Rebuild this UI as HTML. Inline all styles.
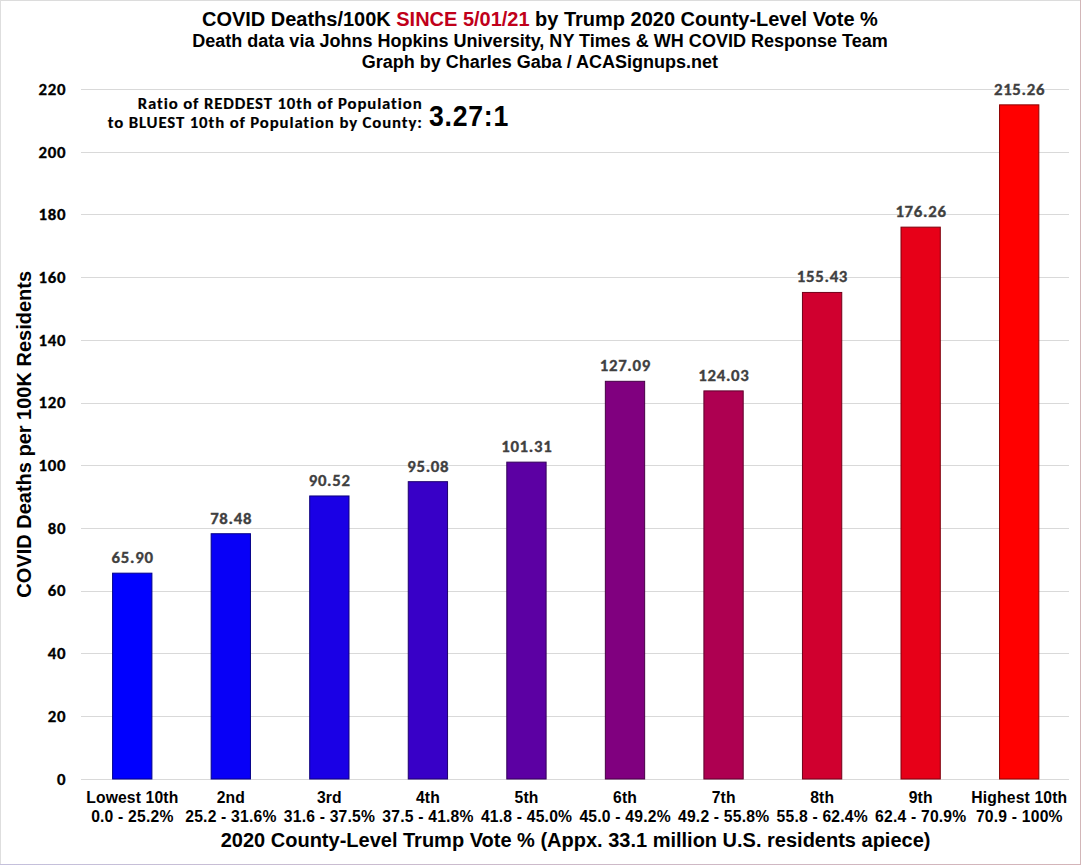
<!DOCTYPE html>
<html><head><meta charset="utf-8"><title>COVID Deaths/100K by Trump 2020 County-Level Vote %</title>
<style>
html,body{margin:0;padding:0;background:#fff;}
body{width:1081px;height:865px;overflow:hidden;}
svg{display:block;}
text{font-variant-ligatures:none;font-feature-settings:"liga" 0,"clig" 0;}
.dl{stroke:#404040;stroke-width:0.3px;}
.yl{stroke:#000;stroke-width:0.3px;}
.rt{stroke:#000;stroke-width:0.15px;}
</style></head><body>
<svg width="1081" height="865" viewBox="0 0 1081 865">
<defs><linearGradient id="bb" x1="0" x2="1" y1="0" y2="0"><stop offset="0" stop-color="#c4c0dc"/><stop offset="1" stop-color="#d4b4b8"/></linearGradient></defs>
<rect x="0" y="0" width="1081" height="865" fill="#fff"/>
<rect x="81" y="779" width="988" height="1" fill="#d9d9d9"/>
<rect x="81" y="716" width="988" height="1" fill="#d9d9d9"/>
<rect x="81" y="653" width="988" height="1" fill="#d9d9d9"/>
<rect x="81" y="591" width="988" height="1" fill="#d9d9d9"/>
<rect x="81" y="528" width="988" height="1" fill="#d9d9d9"/>
<rect x="81" y="465" width="988" height="1" fill="#d9d9d9"/>
<rect x="81" y="403" width="988" height="1" fill="#d9d9d9"/>
<rect x="81" y="340" width="988" height="1" fill="#d9d9d9"/>
<rect x="81" y="277" width="988" height="1" fill="#d9d9d9"/>
<rect x="81" y="214" width="988" height="1" fill="#d9d9d9"/>
<rect x="81" y="152" width="988" height="1" fill="#d9d9d9"/>
<rect x="81" y="89" width="988" height="1" fill="#d9d9d9"/>
<rect x="112.60" y="573.17" width="39.30" height="205.83" fill="#0000ff" stroke="#00008c" stroke-width="1"/>
<text class="dl" transform="translate(132.59,563.17) scale(1.04,1)" text-anchor="middle" font-family='Carlito, Calibri, "Liberation Sans", sans-serif' font-size="16.2" font-weight="bold" fill="#404040" letter-spacing="0.65">65.90</text>
<rect x="211.15" y="533.73" width="39.30" height="245.27" fill="#0800f7" stroke="#040087" stroke-width="1"/>
<text class="dl" transform="translate(231.14,523.73) scale(1.04,1)" text-anchor="middle" font-family='Carlito, Calibri, "Liberation Sans", sans-serif' font-size="16.2" font-weight="bold" fill="#404040" letter-spacing="0.65">78.48</text>
<rect x="309.70" y="495.97" width="39.30" height="283.03" fill="#1a00e5" stroke="#0e007d" stroke-width="1"/>
<text class="dl" transform="translate(329.69,485.97) scale(1.04,1)" text-anchor="middle" font-family='Carlito, Calibri, "Liberation Sans", sans-serif' font-size="16.2" font-weight="bold" fill="#404040" letter-spacing="0.65">90.52</text>
<rect x="408.25" y="481.68" width="39.30" height="297.32" fill="#3800c7" stroke="#1e006d" stroke-width="1"/>
<text class="dl" transform="translate(428.24,471.68) scale(1.04,1)" text-anchor="middle" font-family='Carlito, Calibri, "Liberation Sans", sans-serif' font-size="16.2" font-weight="bold" fill="#404040" letter-spacing="0.65">95.08</text>
<rect x="506.80" y="462.14" width="39.30" height="316.86" fill="#5c00a3" stroke="#320059" stroke-width="1"/>
<text class="dl" transform="translate(526.79,452.14) scale(1.04,1)" text-anchor="middle" font-family='Carlito, Calibri, "Liberation Sans", sans-serif' font-size="16.2" font-weight="bold" fill="#404040" letter-spacing="0.65">101.31</text>
<rect x="605.35" y="381.31" width="39.30" height="397.69" fill="#80007f" stroke="#460045" stroke-width="1"/>
<text class="dl" transform="translate(625.34,371.31) scale(1.04,1)" text-anchor="middle" font-family='Carlito, Calibri, "Liberation Sans", sans-serif' font-size="16.2" font-weight="bold" fill="#404040" letter-spacing="0.65">127.09</text>
<rect x="703.90" y="390.90" width="39.30" height="388.10" fill="#ae0051" stroke="#5f002c" stroke-width="1"/>
<text class="dl" transform="translate(723.89,380.90) scale(1.04,1)" text-anchor="middle" font-family='Carlito, Calibri, "Liberation Sans", sans-serif' font-size="16.2" font-weight="bold" fill="#404040" letter-spacing="0.65">124.03</text>
<rect x="802.45" y="292.45" width="39.30" height="486.55" fill="#d0002f" stroke="#720019" stroke-width="1"/>
<text class="dl" transform="translate(822.44,282.45) scale(1.04,1)" text-anchor="middle" font-family='Carlito, Calibri, "Liberation Sans", sans-serif' font-size="16.2" font-weight="bold" fill="#404040" letter-spacing="0.65">155.43</text>
<rect x="901.00" y="227.14" width="39.30" height="551.86" fill="#e70018" stroke="#7f000d" stroke-width="1"/>
<text class="dl" transform="translate(920.99,217.14) scale(1.04,1)" text-anchor="middle" font-family='Carlito, Calibri, "Liberation Sans", sans-serif' font-size="16.2" font-weight="bold" fill="#404040" letter-spacing="0.65">176.26</text>
<rect x="999.55" y="104.85" width="39.30" height="674.15" fill="#ff0000" stroke="#8c0000" stroke-width="1"/>
<text class="dl" transform="translate(1019.54,94.85) scale(1.04,1)" text-anchor="middle" font-family='Carlito, Calibri, "Liberation Sans", sans-serif' font-size="16.2" font-weight="bold" fill="#404040" letter-spacing="0.65">215.26</text>
<text class="yl" transform="translate(66.18,784.60) scale(1.04,1)" text-anchor="end" font-family='Carlito, Calibri, "Liberation Sans", sans-serif' font-size="16.2" font-weight="bold" fill="#000" letter-spacing="0.65">0</text>
<text class="yl" transform="translate(66.18,721.89) scale(1.04,1)" text-anchor="end" font-family='Carlito, Calibri, "Liberation Sans", sans-serif' font-size="16.2" font-weight="bold" fill="#000" letter-spacing="0.65">20</text>
<text class="yl" transform="translate(66.18,659.18) scale(1.04,1)" text-anchor="end" font-family='Carlito, Calibri, "Liberation Sans", sans-serif' font-size="16.2" font-weight="bold" fill="#000" letter-spacing="0.65">40</text>
<text class="yl" transform="translate(66.18,596.47) scale(1.04,1)" text-anchor="end" font-family='Carlito, Calibri, "Liberation Sans", sans-serif' font-size="16.2" font-weight="bold" fill="#000" letter-spacing="0.65">60</text>
<text class="yl" transform="translate(66.18,533.76) scale(1.04,1)" text-anchor="end" font-family='Carlito, Calibri, "Liberation Sans", sans-serif' font-size="16.2" font-weight="bold" fill="#000" letter-spacing="0.65">80</text>
<text class="yl" transform="translate(66.18,471.05) scale(1.04,1)" text-anchor="end" font-family='Carlito, Calibri, "Liberation Sans", sans-serif' font-size="16.2" font-weight="bold" fill="#000" letter-spacing="0.65">100</text>
<text class="yl" transform="translate(66.18,408.34) scale(1.04,1)" text-anchor="end" font-family='Carlito, Calibri, "Liberation Sans", sans-serif' font-size="16.2" font-weight="bold" fill="#000" letter-spacing="0.65">120</text>
<text class="yl" transform="translate(66.18,345.63) scale(1.04,1)" text-anchor="end" font-family='Carlito, Calibri, "Liberation Sans", sans-serif' font-size="16.2" font-weight="bold" fill="#000" letter-spacing="0.65">140</text>
<text class="yl" transform="translate(66.18,282.92) scale(1.04,1)" text-anchor="end" font-family='Carlito, Calibri, "Liberation Sans", sans-serif' font-size="16.2" font-weight="bold" fill="#000" letter-spacing="0.65">160</text>
<text class="yl" transform="translate(66.18,220.21) scale(1.04,1)" text-anchor="end" font-family='Carlito, Calibri, "Liberation Sans", sans-serif' font-size="16.2" font-weight="bold" fill="#000" letter-spacing="0.65">180</text>
<text class="yl" transform="translate(66.18,157.50) scale(1.04,1)" text-anchor="end" font-family='Carlito, Calibri, "Liberation Sans", sans-serif' font-size="16.2" font-weight="bold" fill="#000" letter-spacing="0.65">200</text>
<text class="yl" transform="translate(66.18,94.79) scale(1.04,1)" text-anchor="end" font-family='Carlito, Calibri, "Liberation Sans", sans-serif' font-size="16.2" font-weight="bold" fill="#000" letter-spacing="0.65">220</text>
<text transform="translate(201.95,25.60) scale(1.0,1)" x="0" y="0" font-family='"Liberation Sans", Arial, Helvetica, sans-serif' font-size="20" font-weight="bold" fill="#000" textLength="675.89" lengthAdjust="spacingAndGlyphs">COVID Deaths/100K <tspan fill="#c0001a">SINCE 5/01/21</tspan> by Trump 2020 County-Level Vote %</text>
<text transform="translate(192.25,46.70) scale(1.0,1)" x="0" y="0" font-family='"Liberation Sans", Arial, Helvetica, sans-serif' font-size="18" font-weight="bold" fill="#000" textLength="695.54" lengthAdjust="spacingAndGlyphs">Death data via Johns Hopkins University, NY Times &amp; WH COVID Response Team</text>
<text transform="translate(361.65,67.50) scale(1.0,1)" x="0" y="0" font-family='"Liberation Sans", Arial, Helvetica, sans-serif' font-size="18" font-weight="bold" fill="#000" textLength="356.41" lengthAdjust="spacingAndGlyphs">Graph by Charles Gaba / ACASignups.net</text>
<text class="rt" transform="translate(137.75,108.60) scale(1.05,1)" x="0" y="0" font-family='Carlito, Calibri, "Liberation Sans", sans-serif' font-size="16" font-weight="bold" fill="#000" textLength="270.39" lengthAdjust="spacing">Ratio of REDDEST 10th of Population</text>
<text class="rt" transform="translate(107.80,127.50) scale(1.05,1)" x="0" y="0" font-family='Carlito, Calibri, "Liberation Sans", sans-serif' font-size="16" font-weight="bold" fill="#000" textLength="299.14" lengthAdjust="spacing">to BLUEST 10th of Population by County:</text>
<text transform="translate(429.01,126.00) scale(0.92,1)" x="0" y="0" font-family='"Liberation Sans", Arial, Helvetica, sans-serif' font-size="29" font-weight="bold" fill="#000" textLength="86.19" lengthAdjust="spacing">3.27:1</text>
<text transform="translate(132.32,802.90)" text-anchor="middle" font-family='"Liberation Sans", Arial, Helvetica, sans-serif' font-size="15.7" font-weight="bold" fill="#000" letter-spacing="0.15">Lowest 10th</text>
<text transform="translate(132.35,821.50)" text-anchor="middle" font-family='"Liberation Sans", Arial, Helvetica, sans-serif' font-size="15.7" font-weight="bold" fill="#000" letter-spacing="0.2">0.0 - 25.2%</text>
<text transform="translate(230.88,802.90)" text-anchor="middle" font-family='"Liberation Sans", Arial, Helvetica, sans-serif' font-size="15.7" font-weight="bold" fill="#000" letter-spacing="0.15">2nd</text>
<text transform="translate(230.90,821.50)" text-anchor="middle" font-family='"Liberation Sans", Arial, Helvetica, sans-serif' font-size="15.7" font-weight="bold" fill="#000" letter-spacing="0.2">25.2 - 31.6%</text>
<text transform="translate(329.43,802.90)" text-anchor="middle" font-family='"Liberation Sans", Arial, Helvetica, sans-serif' font-size="15.7" font-weight="bold" fill="#000" letter-spacing="0.15">3rd</text>
<text transform="translate(329.45,821.50)" text-anchor="middle" font-family='"Liberation Sans", Arial, Helvetica, sans-serif' font-size="15.7" font-weight="bold" fill="#000" letter-spacing="0.2">31.6 - 37.5%</text>
<text transform="translate(427.97,802.90)" text-anchor="middle" font-family='"Liberation Sans", Arial, Helvetica, sans-serif' font-size="15.7" font-weight="bold" fill="#000" letter-spacing="0.15">4th</text>
<text transform="translate(428.00,821.50)" text-anchor="middle" font-family='"Liberation Sans", Arial, Helvetica, sans-serif' font-size="15.7" font-weight="bold" fill="#000" letter-spacing="0.2">37.5 - 41.8%</text>
<text transform="translate(526.53,802.90)" text-anchor="middle" font-family='"Liberation Sans", Arial, Helvetica, sans-serif' font-size="15.7" font-weight="bold" fill="#000" letter-spacing="0.15">5th</text>
<text transform="translate(526.55,821.50)" text-anchor="middle" font-family='"Liberation Sans", Arial, Helvetica, sans-serif' font-size="15.7" font-weight="bold" fill="#000" letter-spacing="0.2">41.8 - 45.0%</text>
<text transform="translate(625.08,802.90)" text-anchor="middle" font-family='"Liberation Sans", Arial, Helvetica, sans-serif' font-size="15.7" font-weight="bold" fill="#000" letter-spacing="0.15">6th</text>
<text transform="translate(625.10,821.50)" text-anchor="middle" font-family='"Liberation Sans", Arial, Helvetica, sans-serif' font-size="15.7" font-weight="bold" fill="#000" letter-spacing="0.2">45.0 - 49.2%</text>
<text transform="translate(723.62,802.90)" text-anchor="middle" font-family='"Liberation Sans", Arial, Helvetica, sans-serif' font-size="15.7" font-weight="bold" fill="#000" letter-spacing="0.15">7th</text>
<text transform="translate(723.65,821.50)" text-anchor="middle" font-family='"Liberation Sans", Arial, Helvetica, sans-serif' font-size="15.7" font-weight="bold" fill="#000" letter-spacing="0.2">49.2 - 55.8%</text>
<text transform="translate(822.18,802.90)" text-anchor="middle" font-family='"Liberation Sans", Arial, Helvetica, sans-serif' font-size="15.7" font-weight="bold" fill="#000" letter-spacing="0.15">8th</text>
<text transform="translate(822.20,821.50)" text-anchor="middle" font-family='"Liberation Sans", Arial, Helvetica, sans-serif' font-size="15.7" font-weight="bold" fill="#000" letter-spacing="0.2">55.8 - 62.4%</text>
<text transform="translate(920.73,802.90)" text-anchor="middle" font-family='"Liberation Sans", Arial, Helvetica, sans-serif' font-size="15.7" font-weight="bold" fill="#000" letter-spacing="0.15">9th</text>
<text transform="translate(920.75,821.50)" text-anchor="middle" font-family='"Liberation Sans", Arial, Helvetica, sans-serif' font-size="15.7" font-weight="bold" fill="#000" letter-spacing="0.2">62.4 - 70.9%</text>
<text transform="translate(1019.27,802.90)" text-anchor="middle" font-family='"Liberation Sans", Arial, Helvetica, sans-serif' font-size="15.7" font-weight="bold" fill="#000" letter-spacing="0.15">Highest 10th</text>
<text transform="translate(1019.30,821.50)" text-anchor="middle" font-family='"Liberation Sans", Arial, Helvetica, sans-serif' font-size="15.7" font-weight="bold" fill="#000" letter-spacing="0.2">70.9 - 100%</text>
<text transform="translate(220.75,846.80) scale(1.0,1)" x="0" y="0" font-family='"Liberation Sans", Arial, Helvetica, sans-serif' font-size="20" font-weight="bold" fill="#000" textLength="709.70" lengthAdjust="spacingAndGlyphs">2020 County-Level Trump Vote % (Appx. 33.1 million U.S. residents apiece)</text>
<text transform="translate(31.0,596.9) rotate(-90)" x="-0.75" y="0" font-family='"Liberation Sans", Arial, Helvetica, sans-serif' font-size="20" font-weight="bold" fill="#000" textLength="326.68" lengthAdjust="spacingAndGlyphs">COVID Deaths per 100K Residents</text>
<rect x="0" y="0" width="1081" height="1" fill="#dcdcdc"/>
<rect x="0" y="0" width="1" height="865" fill="#dedede"/>
<rect x="1080" y="0" width="1" height="865" fill="#d2b6b8"/>
<rect x="0" y="864" width="1081" height="1" fill="url(#bb)"/>
</svg>
</body></html>
